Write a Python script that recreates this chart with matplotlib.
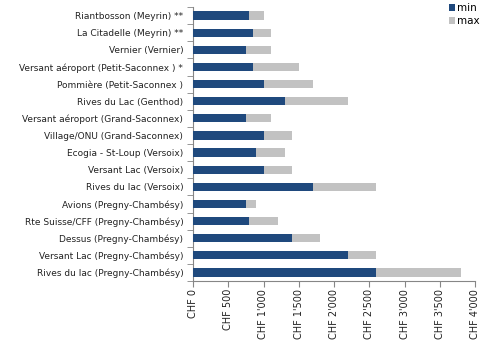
import matplotlib
matplotlib.use("Agg")
import matplotlib.pyplot as plt
import numpy as np

categories = [
    "Riantbosson (Meyrin) **",
    "La Citadelle (Meyrin) **",
    "Vernier (Vernier)",
    "Versant aéroport (Petit-Saconnex ) *",
    "Pommière (Petit-Saconnex )",
    "Rives du Lac (Genthod)",
    "Versant aéroport (Grand-Saconnex)",
    "Village/ONU (Grand-Saconnex)",
    "Ecogia - St-Loup (Versoix)",
    "Versant Lac (Versoix)",
    "Rives du lac (Versoix)",
    "Avions (Pregny-Chambésy)",
    "Rte Suisse/CFF (Pregny-Chambésy)",
    "Dessus (Pregny-Chambésy)",
    "Versant Lac (Pregny-Chambésy)",
    "Rives du lac (Pregny-Chambésy)",
]
min_vals = [800, 850, 750, 850, 1000, 1300, 750, 1000, 900, 1000, 1700, 750, 800, 1400, 2200, 2600]
max_vals = [1000, 1100, 1100, 1500, 1700, 2200, 1100, 1400, 1300, 1400, 2600, 900, 1200, 1800, 2600, 3800]
xticks = [0, 500, 1000, 1500, 2000, 2500, 3000, 3500, 4000]
xticklabels = ["CHF 0", "CHF 500", "CHF 1'000", "CHF 1'500", "CHF 2'000",
               "CHF 2'500", "CHF 3'000", "CHF 3'500", "CHF 4'000"]

fig = plt.figure(figsize=(4.91, 3.40), dpi=100)
ax = fig.add_axes([193/491, 59/340, (475-193)/491, (281-7)/340])

y = np.arange(len(categories))
h = 0.48
ax.barh(y, max_vals, height=h, color="#c2c2c2", label="max", zorder=2)
ax.barh(y, min_vals, height=h, color="#1f497d", label="min", zorder=3)

ax.set_ylim(len(categories) - 0.5, -0.5)
ax.set_xlim(0, 4000)
ax.set_yticks(y)
ax.set_yticklabels(categories, fontsize=6.5, color="#222222")
ax.set_yticks(np.arange(-0.5, len(categories), 1), minor=True)
ax.tick_params(axis="y", which="major", length=0, pad=7)
ax.tick_params(axis="y", which="minor", length=4, color="#868686", direction="out")
ax.set_xticks(xticks)
ax.set_xticklabels(xticklabels, rotation=90, fontsize=7, color="#222222")
ax.tick_params(axis="x", length=4, color="#868686", direction="out", pad=1.5)

for s in ["top", "right"]:
    ax.spines[s].set_visible(False)
for s in ["left", "bottom"]:
    ax.spines[s].set_color("#868686")
    ax.spines[s].set_linewidth(0.8)

handles, labels = ax.get_legend_handles_labels()
leg = fig.legend(handles[::-1], labels[::-1], loc="upper left", bbox_to_anchor=(449/491, 1 - 3/340),
                 frameon=False, fontsize=7.5, handlelength=0.6, handleheight=0.6,
                 handletextpad=0.2, labelspacing=0.3, borderaxespad=0, borderpad=0)

fig.savefig("out.png", dpi=100)
